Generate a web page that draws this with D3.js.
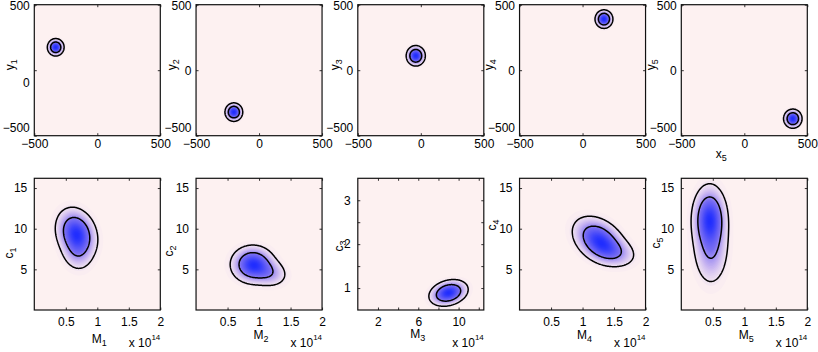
<!DOCTYPE html>
<html>
<meta charset="utf-8" />
<script src="https://d3js.org/d3.v7.min.js"></script>
<style>
  body { margin: 0; background: #fff; }
  text { font-family: "Liberation Sans", Arial, sans-serif; fill: #000; }
</style>
<body>
<div id="chart"></div>
<script>
// top row: sky position of each halo (x, y) and its spread
var posCenters = [[-330, 175], [-200, -320], [-40, 110], [170, 390], [385, -370]];
var posSpread = [[27, 27], [29, 29], [31, 32], [29, 29], [30, 30]];
var posDomain = [-500, 500];
var posTicks = [-500, 0, 500];

// bottom row: mass / concentration posterior, mixture parts [M, c, sM, sc, rho, weight]
var massParts = [
  [[0.67, 9.4, 0.14, 1.35, -0.2, 1], [0.68, 7.3, 0.12, 1.2, -0.1, 0.2]],
  [[0.90, 5.6, 0.15, 1.0, 0.0, 1], [1.12, 4.7, 0.15, 0.85, -0.2, 0.3]],
  [[9.0, 0.89, 0.8, 0.125, 0.25, 1]],
  [[1.26, 8.6, 0.18, 1.25, -0.35, 1], [1.45, 7.3, 0.18, 0.9, -0.3, 0.3]],
  [[0.45, 11.2, 0.12, 1.8, 0.0, 1], [0.47, 7.8, 0.13, 2.2, 0.0, 0.5]]
];
var massDomains = [[0, 2], [0, 2], [0, 12.5], [0, 2], [0, 2]];
var concDomains = [[0, 16.2], [0, 16.2], [0.5, 3.5], [0, 16.2], [0, 16.2]];
var massTicks = [[0.5, 1, 1.5, 2], [0.5, 1, 1.5, 2], [2, 4, 6, 8, 10, 12], [0.5, 1, 1.5, 2], [0.5, 1, 1.5, 2]];
var massTickLabels = [[0.5, 1, 1.5, 2], [0.5, 1, 1.5, 2], [2, 6, 10], [0.5, 1, 1.5, 2], [0.5, 1, 1.5, 2]];
var concTicks = [[5, 10, 15], [5, 10, 15], [1, 1.5, 2, 2.5, 3], [5, 10, 15], [5, 10, 15]];
var concTickLabels = [[5, 10, 15], [5, 10, 15], [1, 2, 3], [5, 10, 15], [5, 10, 15]];
var credLevels = [0.68, 0.95];

var svg = d3.select("#chart").append("svg").attr("width", 818).attr("height", 352);

var colLeft = d3.range(5).map(function(i) { return 34.3 + i * 161.75; });
var panelW = 126;
var rows = [{top: 4.7, h: 131}, {top: 178.3, h: 131.7}];

var heat = d3.scaleLinear()
  .domain([0, 0.15, 0.4, 1])
  .range(["#fdf1f1", "#cbb8f1", "#7a6ef2", "#1e2cff"]);

var fmt = d3.format("~g");

function mixture(parts) {
  return function(x, y) {
    var s = 0;
    parts.forEach(function(p) {
      var dx = (x - p[0]) / p[2], dy = (y - p[1]) / p[3], r = p[4];
      var q = (dx * dx - 2 * r * dx * dy + dy * dy) / (1 - r * r);
      s += p[5] * Math.exp(-0.5 * q) / (p[2] * p[3] * Math.sqrt(1 - r * r));
    });
    return s;
  };
}

function panel(o) {
  var row = rows[o.row], left = colLeft[o.col], h = row.h;
  var x = d3.scaleLinear().domain(o.xDomain).range([0, panelW]);
  var y = d3.scaleLinear().domain(o.yDomain).range([h, 0]);
  var g = svg.append("g").attr("transform", "translate(" + left + "," + row.top + ")");
  var clipId = "clip" + o.row + o.col;
  g.append("clipPath").attr("id", clipId).append("rect").attr("width", panelW).attr("height", h);

  g.append("rect").attr("width", panelW).attr("height", h).attr("fill", heat(0));

  // density on a grid
  var n = 180, f = mixture(o.parts);
  var x0 = o.xDomain[0], y1 = o.yDomain[1];
  var du = (o.xDomain[1] - o.xDomain[0]) / n, dv = (o.yDomain[1] - o.yDomain[0]) / n;
  var values = new Array(n * n);
  for (var j = 0; j < n; j++) {
    for (var i = 0; i < n; i++) {
      values[j * n + i] = f(x0 + (i + 0.5) * du, y1 - (j + 0.5) * dv);
    }
  }
  var vmax = d3.max(values);

  // credible region levels
  var sorted = values.slice().sort(function(a, b) { return b - a; });
  var total = d3.sum(sorted), acc = 0, k = 0;
  var lines = credLevels.map(function(c) {
    while (acc < c * total && k < sorted.length) { acc += sorted[k]; k++; }
    return sorted[k - 1];
  });

  var path = d3.geoPath(d3.geoTransform({
    point: function(px, py) { this.stream.point(x(x0 + px * du), y(y1 - py * dv)); }
  }));
  var contours = d3.contours().size([n, n]);
  var bands = d3.range(0.01, 1, 0.02).map(function(t) { return t * vmax; });

  var plot = g.append("g").attr("clip-path", "url(#" + clipId + ")");
  plot.selectAll("path.band")
    .data(contours.thresholds(bands)(values))
    .enter().append("path")
      .attr("class", "band")
      .attr("d", path)
      .attr("fill", function(d) { return heat(d.value / vmax); });
  plot.selectAll("path.line")
    .data(contours.thresholds(lines)(values))
    .enter().append("path")
      .attr("class", "line")
      .attr("d", path)
      .attr("fill", "none")
      .attr("stroke", "#000")
      .attr("stroke-width", 1.5);

  // axes, ticks inward on all sides
  function lab(set) { return function(d) { return set.indexOf(d) >= 0 ? fmt(d) : ""; }; }
  var ax = g.append("g").attr("transform", "translate(0," + h + ")")
    .call(d3.axisBottom(x).tickValues(o.xTicks).tickSize(-2.5).tickPadding(o.xPad).tickFormat(lab(o.xLabels)));
  g.append("g").call(d3.axisTop(x).tickValues(o.xTicks).tickSize(-2.5).tickFormat(""));
  var ay = g.append("g")
    .call(d3.axisLeft(y).tickValues(o.yTicks).tickSize(-2.5).tickPadding(o.yPad).tickFormat(lab(o.yLabels)));
  g.append("g").attr("transform", "translate(" + panelW + ",0)")
    .call(d3.axisRight(y).tickValues(o.yTicks).tickSize(-2.5).tickFormat(""));
  g.selectAll(".domain").remove();
  g.selectAll(".tick line").attr("stroke", "#000").attr("stroke-width", 0.8);
  g.selectAll(".tick text").attr("font-size", 12).attr("font-family", "Liberation Sans, Arial, sans-serif").attr("fill", "#000");

  g.append("rect").attr("width", panelW).attr("height", h)
    .attr("fill", "none").attr("stroke", "#111").attr("stroke-width", 1.2);

  return {g: g, x: x, y: y, ax: ax, ay: ay, h: h, left: left};
}

function subLabel(sel, main, sub) {
  sel.append("tspan").text(main);
  sel.append("tspan").attr("font-size", 9).attr("dy", 3).text(sub);
}

// top row
var topYLabelX = [20, 20, 19, 27, 26];
posCenters.forEach(function(c, i) {
  var s = posSpread[i];
  var p = panel({
    row: 0, col: i, xDomain: posDomain, yDomain: posDomain,
    parts: [[c[0], c[1], s[0], s[1], 0, 1]],
    xTicks: posTicks, xLabels: posTicks, yTicks: posTicks, yLabels: posTicks,
    xPad: 4, yPad: 4.5
  });
  p.ay.selectAll(".tick text").attr("dy", function(d) {
    if (d === -500) return "-0.35em";
    if (d === 0 && i === 0) return "1.4em";
    if (d === 500) return "0.4em";
    return "0.32em";
  });
  svg.append("text")
    .attr("transform", "translate(" + (p.left - topYLabelX[i]) + "," + (rows[0].top + 60) + ") rotate(-90)")
    .attr("text-anchor", "middle").attr("font-size", 12)
    .call(subLabel, "y", String(i + 1));
});
svg.append("text")
  .attr("x", colLeft[4] + 40).attr("y", 158).attr("text-anchor", "middle").attr("font-size", 12)
  .call(subLabel, "x", "5");

// bottom row
var cLabelX = [21, 23, 15, 24, 21];
var cLabelY = [253, 251, 246, 225, 243];
var mLabelY = [343, 339, 338, 339, 339];
massParts.forEach(function(parts, i) {
  var p = panel({
    row: 1, col: i, xDomain: massDomains[i], yDomain: concDomains[i], parts: parts,
    xTicks: massTicks[i], xLabels: massTickLabels[i], yTicks: concTicks[i], yLabels: concTickLabels[i],
    xPad: 7.3, yPad: 7
  });
  svg.append("text")
    .attr("transform", "translate(" + (p.left - cLabelX[i]) + "," + cLabelY[i] + ") rotate(-90)")
    .attr("text-anchor", "middle").attr("font-size", 12)
    .call(subLabel, "c", String(i + 1));
  svg.append("text")
    .attr("x", p.left + panelW / 2 + (i === 2 ? -3 : 2)).attr("y", mLabelY[i]).attr("text-anchor", "middle").attr("font-size", 12)
    .call(subLabel, "M", String(i + 1));
  var t = svg.append("text")
    .attr("x", p.left + panelW).attr("y", 347).attr("text-anchor", "end").attr("font-size", 12);
  t.append("tspan").text("x 10");
  t.append("tspan").attr("font-size", 8).attr("dy", -7).text("14");
});
</script>
</body>
</html>
